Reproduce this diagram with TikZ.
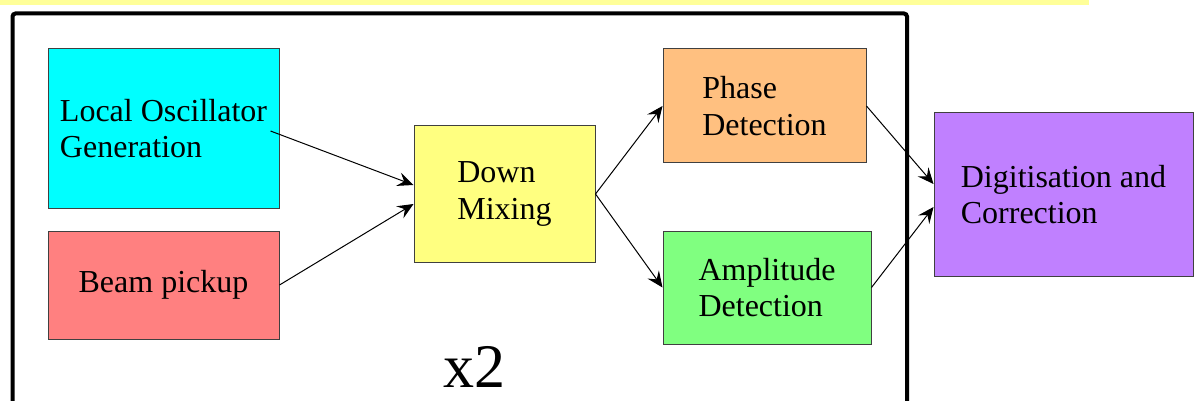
\documentclass[tikz,border=0pt]{standalone}
\usepackage{fontspec}
\setmainfont{Liberation Serif}
\usetikzlibrary{arrows.meta}

\definecolor{bandyellow}{HTML}{FFFF99}
\definecolor{locyan}{HTML}{00FFFF}
\definecolor{pickupred}{HTML}{FF8080}
\definecolor{mixyellow}{HTML}{FFFF80}
\definecolor{phaseorange}{HTML}{FFC080}
\definecolor{ampgreen}{HTML}{80FF80}
\definecolor{digpurple}{HTML}{C080FF}

\tikzset{
  blockbox/.style={draw=black!75, line width=0.5pt, align=left, inner sep=0pt,
    font=\fontsize{16}{18.3}\selectfont},
  signal/.style={line width=0.5pt, -{Stealth[length=8pt, width=7pt, inset=3pt]}},
}

\begin{document}
\begin{tikzpicture}[x=0.5pt, y=-0.5pt]

  \useasboundingbox (0,0) rectangle (1194,401);

  % banner strip and frame of the doubled chain
  \fill[bandyellow] (0,0) rectangle (1089,5);
  \draw[line width=2pt, rounded corners=1.5pt] (12.5,420) -- (12.5,13.5) -- (907,13.5) -- (907,420);

  % blocks
  \node[blockbox, fill=locyan, minimum width=115.5pt, minimum height=79.5pt]
    (lo) at (163.5,128.5) {Local Oscillator\\Generation};
  \node[blockbox, fill=pickupred, minimum width=115.5pt, minimum height=54pt]
    (pickup) at (163.5,285) {Beam pickup};
  \node[blockbox, fill=mixyellow, minimum width=90.5pt, minimum height=68pt]
    (mix) at (504.5,194) {Down\\Mixing};
  \node[blockbox, fill=phaseorange, minimum width=101.5pt, minimum height=57pt]
    (phase) at (764.5,106) {Phase\\Detection};
  \node[blockbox, fill=ampgreen, minimum width=104pt, minimum height=56.5pt]
    (amp) at (767,287.5) {Amplitude\\Detection};
  \node[blockbox, fill=digpurple, minimum width=129.5pt, minimum height=81.5pt]
    (dig) at (1063.5,194.5) {Digitisation and\\Correction};

  \node[font=\fontsize{31}{31}\selectfont, inner sep=0pt] (times) at (474,367) {x2};

  % connections
  \draw[signal] ([shift={(-9,2.5)}]lo.east) -- ([shift={(0,-9)}]mix.west);
  \draw[signal] (pickup.east) -- ([shift={(0,10)}]mix.west);
  \draw[signal] (mix.east) -- (phase.west);
  \draw[signal] (mix.east) -- (amp.west);
  \draw[signal] (phase.east) -- ([shift={(0,-10.5)}]dig.west);
  \draw[signal] (amp.east) -- ([shift={(0,12.5)}]dig.west);

\end{tikzpicture}
\end{document}
